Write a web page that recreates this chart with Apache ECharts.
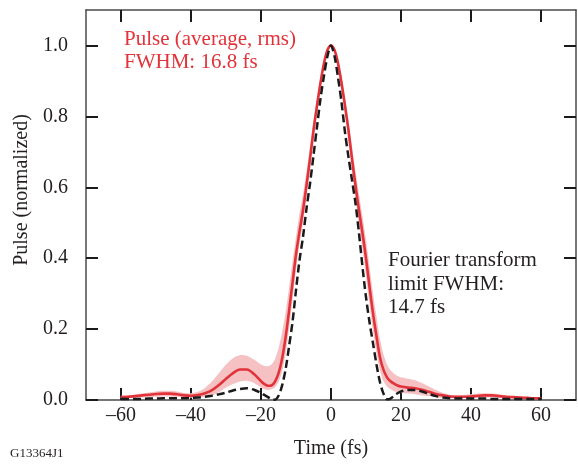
<!DOCTYPE html>
<html>
<head>
<meta charset="utf-8">
<script src="https://cdn.jsdelivr.net/npm/echarts@6/dist/echarts.min.js"></script>
<style>html,body{margin:0;padding:0;background:#fff}#c{width:578px;height:464px}</style>
</head>
<body>
<div id="c"></div>
<script>
// Time axis (fs)
var times = [-60,-58,-56,-54,-52,-50,-48,-46,-44,-42,-40,-38,-36,-34,-32,-30,-28,-26,-24,-22,-20,
  -19,-18,-17,-16,-15,-14,-13,-12,-11,-10,-9,-8,-7,-6,-5,-4,-3,-2,-1,0,1,2,3,4,5,6,7,8,9,10,11,12,13,14,15,16,17,18,19,
  20,22,24,26,28,30,32,34,36,38,40,42,44,46,48,50,52,54,56,58,60];
// Pulse (average)
var pulseAvg = [0.008,0.009,0.011,0.013,0.015,0.017,0.018,0.018,0.016,0.013,0.012,0.014,0.019,0.028,0.042,0.060,0.076,0.086,0.086,0.073,0.053,
  0.045,0.040,0.041,0.052,0.075,0.115,0.175,0.250,0.330,0.410,0.475,0.535,0.605,0.680,0.760,0.830,0.895,0.950,0.987,1.000,
  0.987,0.950,0.895,0.830,0.760,0.680,0.605,0.535,0.470,0.400,0.320,0.245,0.180,0.120,0.085,0.064,0.053,0.046,0.041,
  0.038,0.035,0.033,0.029,0.023,0.017,0.013,0.010,0.009,0.009,0.010,0.012,0.013,0.013,0.011,0.009,0.008,0.007,0.006,0.005,0.005];
// rms band: upper and lower bounds
var rmsUpper = [0.012,0.013,0.015,0.018,0.021,0.024,0.026,0.026,0.024,0.020,0.019,0.023,0.034,0.052,0.076,0.100,0.118,0.127,0.125,0.114,0.100,
  0.096,0.095,0.100,0.115,0.145,0.190,0.245,0.315,0.390,0.460,0.525,0.580,0.645,0.715,0.788,0.852,0.912,0.962,0.994,1.003,
  0.994,0.962,0.912,0.852,0.788,0.715,0.645,0.580,0.518,0.452,0.378,0.302,0.235,0.172,0.128,0.100,0.084,0.074,0.068,
  0.064,0.060,0.056,0.048,0.038,0.028,0.020,0.015,0.013,0.014,0.016,0.018,0.019,0.018,0.016,0.013,0.011,0.010,0.009,0.008,0.008];
var rmsLower = [0.004,0.005,0.006,0.007,0.008,0.009,0.010,0.010,0.009,0.007,0.006,0.007,0.009,0.013,0.022,0.035,0.045,0.052,0.054,0.048,0.035,
  0.030,0.028,0.030,0.036,0.050,0.078,0.128,0.198,0.282,0.366,0.440,0.500,0.575,0.655,0.740,0.810,0.880,0.940,0.980,0.997,
  0.980,0.940,0.880,0.810,0.735,0.650,0.570,0.495,0.425,0.350,0.270,0.195,0.132,0.082,0.052,0.038,0.030,0.025,0.022,
  0.020,0.018,0.016,0.013,0.011,0.008,0.006,0.005,0.005,0.005,0.005,0.006,0.007,0.007,0.006,0.005,0.005,0.004,0.004,0.003,0.003];
// Fourier transform limit
var ftLimit = [0.003,0.003,0.003,0.003,0.004,0.004,0.005,0.005,0.005,0.005,0.006,0.007,0.009,0.012,0.016,0.021,0.027,0.031,0.033,0.029,0.020,
  0.014,0.008,0.002,0.001,0.012,0.040,0.085,0.150,0.220,0.310,0.394,0.460,0.540,0.610,0.690,0.770,0.850,0.915,0.970,1.000,
  0.970,0.910,0.840,0.755,0.685,0.620,0.555,0.470,0.375,0.290,0.220,0.160,0.100,0.050,0.018,0.002,0.004,0.012,0.019,
  0.024,0.028,0.028,0.024,0.017,0.011,0.007,0.005,0.004,0.004,0.004,0.004,0.004,0.003,0.003,0.003,0.003,0.003,0.003,0.003,0.003];

var xTicks = [-60,-40,-20,0,20,40,60];
var xTickLabels = ['\u201360','\u201340','\u201320','0','20','40','60'];
var yTicks = [0,0.2,0.4,0.6,0.8,1.0];
var yTickLabels = ['0.0','0.2','0.4','0.6','0.8','1.0'];

function pairs(ys){ return times.map(function(t,i){ return [t, ys[i]]; }); }
var bandData = times.map(function(t,i){ return [t, rmsLower[i], rmsUpper[i]]; });

var FONT = 'Liberation Serif';
var frameColor = '#4a4a4a';
function tickStyle(vals){ return {show:true, inside:true, length:12, customValues:vals, lineStyle:{color:'#1a1a1a', width:2}}; }

function xFmt(v){ for (var i=0;i<xTicks.length;i++){ if (Math.abs(v-xTicks[i])<1e-6) return xTickLabels[i]; } return ''; }
function yFmt(v){ for (var i=0;i<yTicks.length;i++){ if (Math.abs(v-yTicks[i])<1e-6) return yTickLabels[i]; } return ''; }

var chart = echarts.init(document.getElementById('c'), null, {renderer:'canvas'});
chart.setOption({
  animation:false,
  backgroundColor:'#ffffff',
  grid:{left:86, right:2, top:10, bottom:64, containLabel:false},
  xAxis:[{
    type:'value', min:-70, max:70, position:'bottom',
    name:'Time (fs)', nameLocation:'middle', nameGap:39,
    nameTextStyle:{fontFamily:FONT, fontSize:20, color:'#231f20'},
    axisLine:{show:true, onZero:false, lineStyle:{color:frameColor, width:1.5}},
    axisTick:tickStyle(xTicks),
    axisLabel:{show:true, margin:6, customValues:xTicks, fontFamily:FONT, fontSize:20, color:'#231f20', formatter:xFmt},
    splitLine:{show:false}
  },{
    type:'value', min:-70, max:70, position:'top',
    axisLine:{show:true, onZero:false, lineStyle:{color:frameColor, width:1.5}},
    axisTick:tickStyle(xTicks), axisLabel:{show:false}, splitLine:{show:false}
  }],
  yAxis:[{
    type:'value', min:0, max:1.1, position:'left',
    name:'Pulse (normalized)', nameLocation:'middle', nameGap:52, nameRotate:90,
    nameTextStyle:{fontFamily:FONT, fontSize:20, color:'#231f20', padding:[0,0,0,30]},
    axisLine:{show:true, onZero:false, lineStyle:{color:frameColor, width:1.5}},
    axisTick:tickStyle(yTicks),
    axisLabel:{show:true, margin:18, customValues:yTicks, fontFamily:FONT, fontSize:20, color:'#231f20', formatter:yFmt},
    splitLine:{show:false}
  },{
    type:'value', min:0, max:1.1, position:'right',
    axisLine:{show:true, onZero:false, lineStyle:{color:frameColor, width:1.5}},
    axisTick:tickStyle(yTicks), axisLabel:{show:false}, splitLine:{show:false}
  }],
  series:[
    {name:'Pulse rms', type:'custom', data:bandData, encode:{x:0, y:[1,2]}, silent:true, z:1,
     renderItem:function(params, api){
       if (params.dataIndex !== 0) return null;
       var up = [], lo = [];
       for (var i=0;i<bandData.length;i++){
         up.push(api.coord([bandData[i][0], bandData[i][2]]));
         lo.push(api.coord([bandData[i][0], bandData[i][1]]));
       }
       var pts = up.concat(lo.reverse());
       return {type:'polygon', shape:{points:pts, smooth:0.2}, style:{fill:'#f5c1c3'}};
     }},
    {name:'Pulse (average)', type:'line', data:pairs(pulseAvg), symbol:'none', smooth:0.3,
     lineStyle:{color:'#e2333b', width:2.6}, z:3},
    {name:'Fourier transform limit', type:'line', data:pairs(ftLimit), symbol:'none', smooth:0.3,
     lineStyle:{color:'#1a1a1a', width:2.5, type:[8,4]}, z:4}
  ],
  graphic:[
    {type:'text', left:124, top:28, style:{text:'Pulse (average, rms)\nFWHM: 16.8 fs', fill:'#e2333b', font:'21px "Liberation Serif"', lineHeight:23}},
    {type:'text', left:388, top:249, style:{text:'Fourier transform\nlimit FWHM:\n14.7 fs', fill:'#231f20', font:'21px "Liberation Serif"', lineHeight:23.5}},
    {type:'text', left:10, top:447, style:{text:'G13364J1', fill:'#231f20', font:'13px "Liberation Serif"'}}
  ]
});
</script>
</body>
</html>
